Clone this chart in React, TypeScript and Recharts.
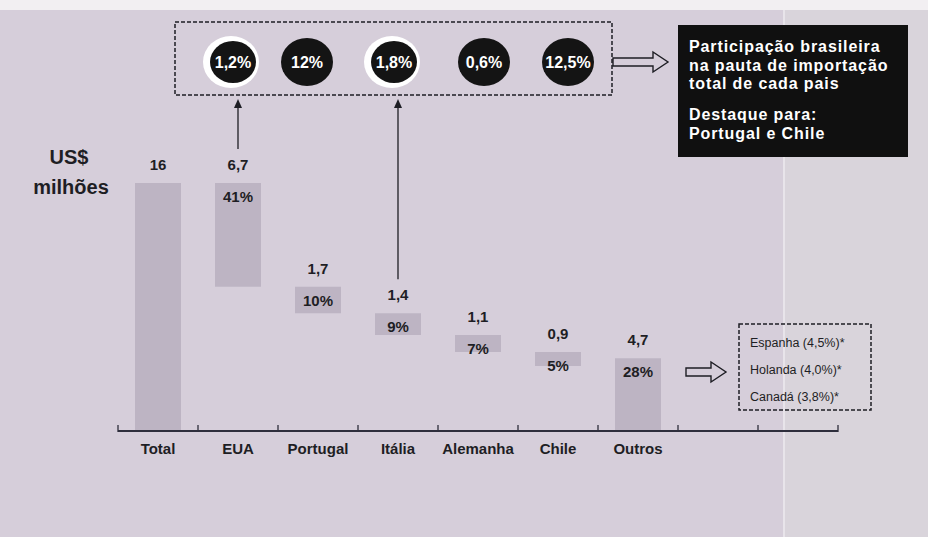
import React from 'react';
import { BarChart, Bar, XAxis, YAxis, LabelList } from 'recharts';

// Exportações por destino, US$ milhões (cascata a partir do total)
const categories = ['Total', 'EUA', 'Portugal', 'Itália', 'Alemanha', 'Chile', 'Outros', '', ' '];
const exportValues = [16, 6.7, 1.7, 1.4, 1.1, 0.9, 4.7];
const exportShares = [null, 41, 10, 9, 7, 5, 28];

// Participação brasileira na pauta de importação de cada país
const shareCountries = ['EUA', 'Portugal', 'Itália', 'Alemanha', 'Chile'];
const importShares = [1.2, 12, 1.8, 0.6, 12.5];
const highlighted = ['EUA', 'Itália'];

// Detalhe de "Outros"
const otherCountries = ['Espanha', 'Holanda', 'Canadá'];
const otherShares = [4.5, 4.0, 3.8];

const W = 928;
const H = 537;
const MARGIN = { top: 183, right: 90, bottom: 76, left: 118 };
const BAND = (W - MARGIN.left - MARGIN.right) / categories.length;
const CIRCLE_X = [231, 307, 392, 484, 568];
const CIRCLE_Y = 62;
const BOX_BOTTOM = 95;

const BG = '#d6ceda';
const BAR = '#bdb4c3';
const INK = '#1e1e24';
const AXIS = '#2e2e3c';
const SANS = '"Liberation Sans", Arial, sans-serif';

const fmt = (v: number) => String(v).replace('.', ',');

let running = exportValues[0];
const rows = categories.map((name, i) => {
  const value = exportValues[i];
  if (value === undefined) return { name };
  let base = 0;
  if (name !== 'Total' && name !== 'Outros') {
    running -= value;
    base = running;
  }
  return { name, base, value, share: exportShares[i] };
});

const renderBarLabels = (props: any) => {
  const { x, y, width, index } = props;
  const row: any = rows[index];
  if (!row || row.value === undefined) return null;
  const cx = x + width / 2;
  const linked = highlighted.includes(row.name);
  return (
    <g>
      <text x={cx} y={y - 13} textAnchor="middle" fontFamily={SANS} fontSize={15} fontWeight="bold" fill={INK}>
        {fmt(row.value)}
      </text>
      {row.share != null && (
        <text x={cx} y={y + 19} textAnchor="middle" fontFamily={SANS} fontSize={15} fontWeight="bold" fill={INK}>
          {`${row.share}%`}
        </text>
      )}
      {linked && (
        <g>
          <line x1={cx} x2={cx} y1={y - 34} y2={BOX_BOTTOM + 10} stroke={INK} strokeWidth={1.3} />
          <path d={`M${cx - 4},${BOX_BOTTOM + 13} L${cx},${BOX_BOTTOM + 4} L${cx + 4},${BOX_BOTTOM + 13} Z`} fill={INK} />
        </g>
      )}
    </g>
  );
};

const CategoryTick = (props: any) => {
  const { x, y, payload, index } = props;
  const left = x - BAND / 2;
  return (
    <g>
      <line x1={left} x2={left} y1={y - 6} y2={y + 1} stroke={AXIS} strokeWidth={1.3} />
      {index === categories.length - 1 && (
        <line x1={x + BAND / 2} x2={x + BAND / 2} y1={y - 6} y2={y + 1} stroke={AXIS} strokeWidth={1.3} />
      )}
      <text x={x} y={y + 23} textAnchor="middle" fontFamily={SANS} fontSize={15} fontWeight="bold" fill={INK}>
        {payload.value}
      </text>
    </g>
  );
};

// seta vazada horizontal
const HollowArrow = ({ x1, x2, y }: { x1: number; x2: number; y: number }) => {
  const head = x2 - 15;
  const d = `M${x1},${y - 4} L${head},${y - 4} L${head},${y - 10} L${x2},${y} L${head},${y + 10} L${head},${y + 4} L${x1},${y + 4} Z`;
  return <path d={d} fill="none" stroke={INK} strokeWidth={1.4} strokeLinejoin="miter" />;
};

export default function App() {
  return (
    <div style={{ position: 'relative', width: W, height: H, background: BG, overflow: 'hidden' }}>
      <style>{'body{margin:0}'}</style>
      <svg width={W} height={H} style={{ position: 'absolute', left: 0, top: 0 }}>
        <rect x={0} y={0} width={W} height={10} fill="#f2eff2" />
        <rect x={784} y={10} width={W - 784} height={H - 10} fill="#d9d4db" />
        <line x1={784} x2={784} y1={10} y2={H} stroke="#e8e4ea" strokeWidth={2} />
      </svg>

      <div style={{ position: 'absolute', left: 0, top: 0 }}>
        <BarChart width={W} height={H} data={rows} margin={MARGIN} barSize={46}>
          <YAxis hide domain={[0, 16]} />
          <XAxis
            dataKey="name"
            height={30}
            tickSize={0}
            tickMargin={0}
            tickLine={false}
            axisLine={{ stroke: AXIS, strokeWidth: 2 }}
            tick={<CategoryTick />}
            interval={0}
          />
          <Bar dataKey="base" stackId="w" fill="transparent" isAnimationActive={false} />
          <Bar dataKey="value" stackId="w" fill={BAR} isAnimationActive={false}>
            <LabelList dataKey="value" content={renderBarLabels} />
          </Bar>
        </BarChart>
      </div>

      <svg width={W} height={H} style={{ position: 'absolute', left: 0, top: 0, pointerEvents: 'none' }}>
        <text x={69} y={164} textAnchor="middle" fontFamily={SANS} fontSize={20} fontWeight="bold" fill={INK}>US$</text>
        <text x={71} y={194} textAnchor="middle" fontFamily={SANS} fontSize={20} fontWeight="bold" fill={INK}>milhões</text>

        <rect x={175} y={22} width={437} height={BOX_BOTTOM - 22} fill="none" stroke={INK} strokeWidth={1.5} strokeDasharray="4 2" />
        {shareCountries.map((c, i) => {
          const ring = highlighted.includes(c);
          const cx = CIRCLE_X[i] + (ring ? 2 : 0);
          return (
            <g key={c}>
              {ring && <ellipse cx={CIRCLE_X[i]} cy={CIRCLE_Y} rx={28} ry={26} fill="#ffffff" />}
              <ellipse cx={cx} cy={CIRCLE_Y} rx={ring ? 23 : 26} ry={ring ? 21 : 24} fill="#141414" />
              <text x={cx} y={CIRCLE_Y + 6} textAnchor="middle" fontFamily={SANS} fontSize={16} fontWeight="bold" fill="#ffffff">
                {`${fmt(importShares[i])}%`}
              </text>
            </g>
          );
        })}
        <HollowArrow x1={613} x2={668} y={62} />

        <rect x={678} y={25} width={230} height={132} fill="#101010" />
        {['Participação brasileira', 'na pauta de importação', 'total de cada pais'].map((t, i) => (
          <text key={t} x={689} y={52 + i * 18.5} fontFamily={SANS} fontSize={16} fontWeight="bold" letterSpacing={0.9} fill="#ffffff">{t}</text>
        ))}
        {['Destaque para:', 'Portugal e Chile'].map((t, i) => (
          <text key={t} x={689} y={120 + i * 19} fontFamily={SANS} fontSize={16} fontWeight="bold" letterSpacing={0.9} fill="#ffffff">{t}</text>
        ))}

        <HollowArrow x1={686} x2={726} y={372} />
        <rect x={739} y={324} width={132} height={86} fill="none" stroke={INK} strokeWidth={1.5} strokeDasharray="4 2" />
        {otherCountries.map((c, i) => (
          <text key={c} x={750} y={347 + i * 27} fontFamily={SANS} fontSize={12.5} fill={INK}>
            {`${c} (${otherShares[i].toFixed(1).replace('.', ',')}%)*`}
          </text>
        ))}
      </svg>
    </div>
  );
}
